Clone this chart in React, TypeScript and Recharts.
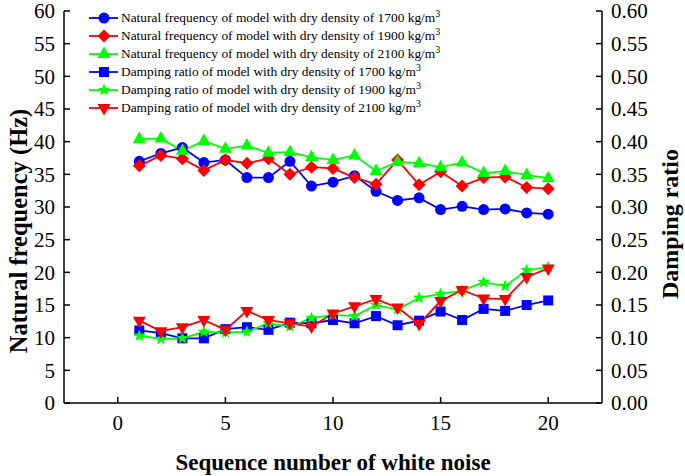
import React from 'react';
import { Label, Line, LineChart, XAxis, YAxis } from 'recharts';

// sequence number of white noise
const seq = [1, 2, 3, 4, 5, 6, 7, 8, 9, 10, 11, 12, 13, 14, 15, 16, 17, 18, 19, 20];

// natural frequency (Hz)
const nf1700 = [37.0, 38.2, 39.1, 36.8, 37.2, 34.5, 34.5, 37.0, 33.2, 33.8, 34.8, 32.4, 31.0, 31.4, 29.6, 30.1, 29.6, 29.7, 29.1, 28.9];
const nf1900 = [36.3, 37.9, 37.4, 35.6, 37.2, 36.7, 37.4, 35.0, 36.1, 35.9, 34.5, 33.5, 37.2, 33.4, 35.4, 33.2, 34.5, 34.6, 33.0, 32.8];
const nf2100 = [40.4, 40.5, 38.6, 40.1, 38.9, 39.4, 38.3, 38.4, 37.6, 37.2, 37.9, 35.5, 36.9, 36.7, 36.1, 36.8, 35.2, 35.5, 34.9, 34.4];

// damping ratio
const dr1700 = [0.111, 0.107, 0.099, 0.099, 0.113, 0.116, 0.112, 0.123, 0.122, 0.127, 0.122, 0.133, 0.119, 0.126, 0.14, 0.127, 0.144, 0.141, 0.15, 0.157];
const dr1900 = [0.103, 0.098, 0.099, 0.109, 0.108, 0.109, 0.122, 0.117, 0.13, 0.135, 0.133, 0.15, 0.143, 0.161, 0.167, 0.172, 0.185, 0.179, 0.203, 0.208];
const dr2100 = [0.126, 0.11, 0.116, 0.127, 0.112, 0.141, 0.127, 0.122, 0.117, 0.137, 0.148, 0.159, 0.146, 0.121, 0.156, 0.173, 0.16, 0.159, 0.193, 0.206];

const xTicks = [0, 5, 10, 15, 20];
const leftTicks = [0, 5, 10, 15, 20, 25, 30, 35, 40, 45, 50, 55, 60];
const rightTicks = [0, 0.05, 0.1, 0.15, 0.2, 0.25, 0.3, 0.35, 0.4, 0.45, 0.5, 0.55, 0.6];

const data = seq.map((x, i) => ({
  x,
  nf1700: nf1700[i],
  nf1900: nf1900[i],
  nf2100: nf2100[i],
  dr1700: dr1700[i],
  dr1900: dr1900[i],
  dr2100: dr2100[i],
}));

const BLUE = '#0000ff';
const RED = '#ff0000';
const GREEN = '#00ff00';
const FONT = '"Liberation Serif", "Times New Roman", serif';

type Shape = 'circle' | 'diamond' | 'triangle' | 'square' | 'star' | 'triangleDown';

const series: { key: string; axis: string; color: string; shape: Shape; name: string }[] = [
  { key: 'nf1700', axis: 'left', color: BLUE, shape: 'circle', name: 'Natural frequency of model with dry density of 1700 kg/m' },
  { key: 'nf1900', axis: 'left', color: RED, shape: 'diamond', name: 'Natural frequency of model with dry density of 1900 kg/m' },
  { key: 'nf2100', axis: 'left', color: GREEN, shape: 'triangle', name: 'Natural frequency of model with dry density of 2100 kg/m' },
  { key: 'dr1700', axis: 'right', color: BLUE, shape: 'square', name: 'Damping ratio of model with dry density of 1700 kg/m' },
  { key: 'dr1900', axis: 'right', color: GREEN, shape: 'star', name: 'Damping ratio of model with dry density of 1900 kg/m' },
  { key: 'dr2100', axis: 'right', color: RED, shape: 'triangleDown', name: 'Damping ratio of model with dry density of 2100 kg/m' },
];

function starPoints(cx: number, cy: number, ro: number, ri: number) {
  const pts: string[] = [];
  for (let k = 0; k < 10; k++) {
    const r = k % 2 === 0 ? ro : ri;
    const a = -Math.PI / 2 + (k * Math.PI) / 5;
    pts.push(`${cx + r * Math.cos(a)},${cy + r * Math.sin(a)}`);
  }
  return pts.join(' ');
}

function Marker({ shape, cx, cy, color }: { shape: Shape; cx: number; cy: number; color: string }) {
  if (cx == null || cy == null) return null;
  switch (shape) {
    case 'circle':
      return <circle cx={cx} cy={cy} r={5.5} fill={color} />;
    case 'diamond':
      return <polygon points={`${cx},${cy - 6.5} ${cx + 6.5},${cy} ${cx},${cy + 6.5} ${cx - 6.5},${cy}`} fill={color} />;
    case 'triangle':
      return <polygon points={`${cx},${cy - 7.5} ${cx + 6.5},${cy + 4} ${cx - 6.5},${cy + 4}`} fill={color} />;
    case 'triangleDown':
      return <polygon points={`${cx},${cy + 7.5} ${cx + 6.5},${cy - 4} ${cx - 6.5},${cy - 4}`} fill={color} />;
    case 'square':
      return <rect x={cx - 5} y={cy - 5} width={10} height={10} fill={color} />;
    case 'star':
      return <polygon points={starPoints(cx, cy, 6.5, 2.8)} fill={color} />;
  }
  return null;
}

const tickStyle = { fill: '#000', fontSize: 21, fontFamily: FONT };
const axisLine = { stroke: '#000', strokeWidth: 1.5 };

function LegendBox() {
  return (
    <div style={{ position: 'absolute', left: 88, top: 9, fontFamily: FONT, fontSize: 13.4, color: '#000' }}>
      {series.map((s) => (
        <div key={s.key} style={{ display: 'flex', alignItems: 'center', height: 18, whiteSpace: 'nowrap' }}>
          <svg width={32} height={16} style={{ flex: 'none' }}>
            <line x1={1} x2={30} y1={8} y2={8} stroke={s.color} strokeWidth={1.8} />
            <Marker shape={s.shape} cx={16} cy={8} color={s.color} />
          </svg>
          <span style={{ marginLeft: 1, lineHeight: '18px' }}>
            {s.name}
            <sup style={{ fontSize: 10, verticalAlign: 'top', lineHeight: '10px' }}>3</sup>
          </span>
        </div>
      ))}
    </div>
  );
}

export default function App() {
  return (
    <div style={{ position: 'absolute', left: 0, top: 0, width: 685, height: 476, background: '#fff' }}>
      <LineChart width={685} height={476} data={data} margin={{ top: 11, right: 0, bottom: 0, left: 0 }}>
        <XAxis
          dataKey="x"
          type="number"
          domain={[-2.5, 22.5]}
          ticks={xTicks}
          allowDataOverflow
          height={73}
          tick={tickStyle}
          tickSize={-6}
          tickMargin={18}
          axisLine={axisLine}
          tickLine={{ stroke: '#000', strokeWidth: 1.5 }}
        >
          <Label
            content={({ viewBox }: any) => (
              <text
                x={viewBox.x + viewBox.width / 2}
                y={viewBox.y + 67}
                textAnchor="middle"
                fontFamily={FONT}
                fontWeight="bold"
                fontSize={23}
                fill="#000"
              >
                Sequence number of white noise
              </text>
            )}
          />
        </XAxis>
        <YAxis
          yAxisId="left"
          domain={[0, 60]}
          ticks={leftTicks}
          width={64}
          interval={0}
          tick={tickStyle}
          tickSize={-6}
          tickMargin={15}
          axisLine={axisLine}
          tickLine={{ stroke: '#000', strokeWidth: 1.5 }}
        >
          <Label
            content={() => (
              <text
                transform="translate(18,231) rotate(-90)"
                textAnchor="middle"
                dominantBaseline="central"
                fontFamily={FONT}
                fontWeight="bold"
                fontSize={24.5}
                fill="#000"
              >
                Natural frequency (Hz)
              </text>
            )}
          />
        </YAxis>
        <YAxis
          yAxisId="right"
          orientation="right"
          domain={[0, 0.6]}
          ticks={rightTicks}
          width={83}
          interval={0}
          tickFormatter={(v: number) => v.toFixed(2)}
          tick={tickStyle}
          tickSize={-6}
          tickMargin={15}
          axisLine={axisLine}
          tickLine={{ stroke: '#000', strokeWidth: 1.5 }}
        >
          <Label
            content={() => (
              <text
                transform="translate(670,224) rotate(-90)"
                textAnchor="middle"
                dominantBaseline="central"
                fontFamily={FONT}
                fontWeight="bold"
                fontSize={24}
                fill="#000"
              >
                Damping ratio
              </text>
            )}
          />
        </YAxis>
        {series.map((s) => (
          <Line
            key={s.key}
            yAxisId={s.axis}
            dataKey={s.key}
            stroke={s.color}
            strokeWidth={1.8}
            isAnimationActive={false}
            dot={(p: any) => <Marker key={`${s.key}-${p.index}`} shape={s.shape} cx={p.cx} cy={p.cy} color={s.color} />}
            activeDot={false}
          />
        ))}
      </LineChart>
      <LegendBox />
    </div>
  );
}
